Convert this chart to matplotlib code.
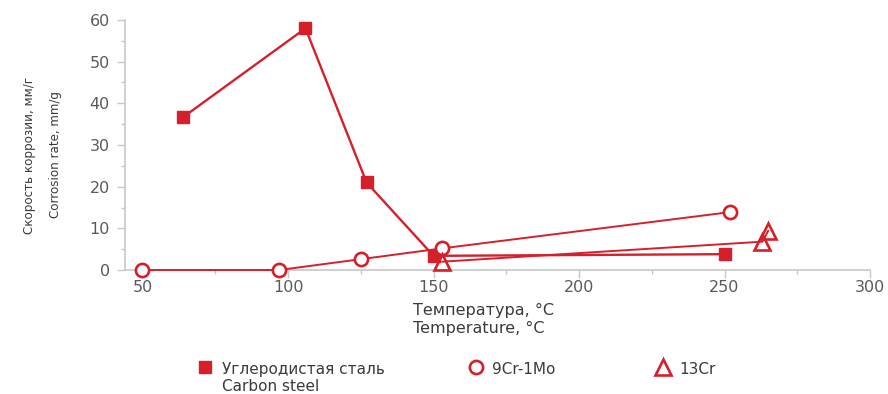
import matplotlib
matplotlib.use("Agg")
from matplotlib import pyplot as plt
from matplotlib import font_manager
from matplotlib.ticker import MultipleLocator

# corrosion rate vs temperature
carbon_t = [64, 106, 127, 150, 250]
carbon_rate = [36.7, 58, 21, 3.4, 3.8]

cr9_t = [50, 97, 125, 153, 252]
cr9_rate = [0, 0, 2.6, 5.2, 13.9]

cr13_t = [153, 263, 265]
cr13_rate = [2, 6.8, 9.4]

labels = ["Углеродистая сталь\nCarbon steel", "9Cr-1Mo", "13Cr"]

red = "#d5202c"
grey = "#5a5a5a"
text_col = "#3a3a3a"
spine = "#c8c8c8"

# narrow face for the rotated axis title, if one is installed
narrow = None
for name in ["Liberation Sans Narrow"]:
    try:
        font_manager.findfont(name, fallback_to_default = False)
        narrow = name
        break
    except ValueError:
        pass
if narrow:
    ylab_font = dict(family = [narrow, "DejaVu Sans"], fontsize = 10.5)
else:
    ylab_font = dict(family = ["DejaVu Sans"], fontsize = 8.6)

fig = plt.figure(figsize = (8.88, 3.94), dpi = 100)
ax = fig.add_axes([0.1408, 0.3147, 0.839, 0.6346])

h1, = ax.plot(carbon_t, carbon_rate, color = red, lw = 1.7, marker = "s",
              markersize = 8.5, clip_on = False, zorder = 3)
h2, = ax.plot(cr9_t, cr9_rate, color = red, lw = 1.4, marker = "o",
              markersize = 9.5, markerfacecolor = "white", markeredgewidth = 1.9,
              clip_on = False, zorder = 3)
h3, = ax.plot(cr13_t, cr13_rate, color = red, lw = 1.4, marker = "^",
              markersize = 12, markerfacecolor = "none", markeredgewidth = 1.9,
              clip_on = False, zorder = 3)

ax.set_xlim(44, 300)
ax.set_ylim(0, 60)
ax.set_xticks([50, 100, 150, 200, 250, 300])
ax.xaxis.set_minor_locator(MultipleLocator(25))
ax.yaxis.set_major_locator(MultipleLocator(10))
ax.yaxis.set_minor_locator(MultipleLocator(5))

for side in ("top", "right"):
    ax.spines[side].set_visible(False)
for side in ("left", "bottom"):
    ax.spines[side].set_color(spine)
    ax.spines[side].set_linewidth(1.2)

ax.tick_params(axis = "both", which = "major", length = 6, width = 1, color = spine,
               labelsize = 11.5, labelcolor = grey)
ax.tick_params(axis = "x", which = "major", pad = 1.5)
ax.tick_params(axis = "y", which = "major", pad = 5)
ax.tick_params(axis = "both", which = "minor", length = 3, width = 1, color = spine)

ax.set_ylabel("Скорость коррозии, мм/г\nCorrosion rate, mm/g", color = text_col,
              linespacing = 2.3, **ylab_font)
ax.yaxis.set_label_coords(-0.085, 0.46)

fig.text(0.465, 0.188, "Температура, °C\nTemperature, °C", fontsize = 11.5,
         color = text_col, ha = "left", va = "center", linespacing = 1.25)

# one legend per entry so each sits at its own spot along the bottom
handles = [h1, h2, h3]
anchors = [(0.222, 0.082), (0.527, 0.082), (0.738, 0.082)]
for h, lab, anc in zip(handles, labels, anchors):
    leg = fig.legend([h], [lab], loc = "upper left", bbox_to_anchor = anc,
                     frameon = False, fontsize = 11, labelcolor = text_col,
                     handlelength = 1.0, handletextpad = 0.6, borderpad = 0,
                     borderaxespad = 0, labelspacing = 0)
    for line in leg.get_lines():
        line.set_linestyle("none")
    for col in leg._legend_handle_box.get_children():
        for row in col.get_children():
            row.align = "top"

fig.savefig("out.png", dpi = 100)
